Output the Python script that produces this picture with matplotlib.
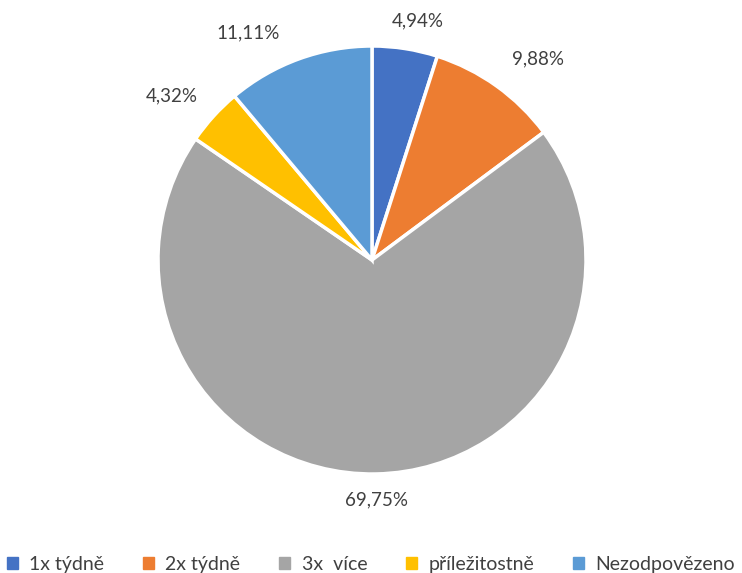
import matplotlib
matplotlib.use("Agg")
import matplotlib.pyplot as plt
import numpy as np

categories = ["1x týdně", "2x týdně", "3x  více", "příležitostně", "Nezodpovězeno"]
values = [4.94, 9.88, 69.75, 4.32, 11.11]
labels = ["4,94%", "9,88%", "69,75%", "4,32%", "11,11%"]
colors = ["#4472C4", "#ED7D31", "#A5A5A5", "#FFC000", "#5B9BD5"]
label_r = [1.14, 1.22, 1.12, 1.21, 1.21]
label_shift = [-2, -4, 0, 3, 8.5]

plt.rcParams['font.family'] = ['Lato', 'DejaVu Sans']

W, H = 742, 573
fig = plt.figure(figsize=(W/100, H/100), dpi=100)
cx, cy, R = 372, 260, 214
ax = fig.add_axes([(cx-R)/W, (H-cy-R)/H, 2*R/W, 2*R/H])

wedges, _ = ax.pie(values, colors=colors, startangle=90, counterclock=False,
                   wedgeprops=dict(edgecolor="white", linewidth=2.5), radius=1)
ax.set_xlim(-1, 1); ax.set_ylim(-1, 1)
ax.set_aspect('equal')

for w, lab, r, s in zip(wedges, labels, label_r, label_shift):
    th = np.deg2rad((w.theta1 + w.theta2) / 2 + s)
    ax.text(r*np.cos(th), r*np.sin(th), lab, ha='center', va='center',
            fontsize=13.5, color="#404040", clip_on=False)

handles = [plt.Rectangle((0, 0), 1, 1, color=c) for c in colors]
fig.legend(handles, categories, loc='lower center', bbox_to_anchor=(0.5, -0.03),
           ncol=5, frameon=False, fontsize=14, handlelength=0.55, handleheight=0.55,
           columnspacing=2.0, handletextpad=0.6, labelcolor="#404040")

fig.savefig("out.png", dpi=100)
